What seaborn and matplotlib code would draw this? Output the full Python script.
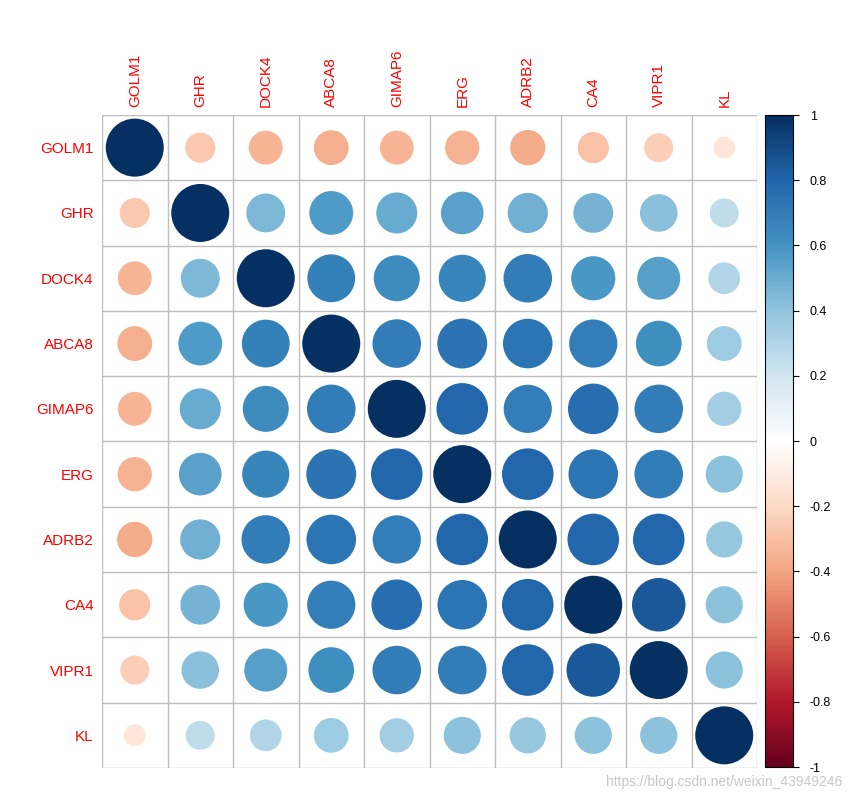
import numpy as np
import pandas as pd
import seaborn as sns
import matplotlib.pyplot as plt
from matplotlib.colors import LinearSegmentedColormap, Normalize
from matplotlib.cm import ScalarMappable

# ==========================================
# DATA: correlation values (upper triangle)
# ==========================================
genes = ['GOLM1', 'GHR', 'DOCK4', 'ABCA8', 'GIMAP6', 'ERG', 'ADRB2', 'CA4', 'VIPR1', 'KL']

row_golm1 = [1.00, -0.27, -0.34, -0.36, -0.34, -0.35, -0.37, -0.29, -0.25, -0.14]
row_ghr = [1.00, 0.45, 0.57, 0.50, 0.54, 0.48, 0.47, 0.42, 0.25]
row_dock4 = [1.00, 0.68, 0.63, 0.66, 0.70, 0.58, 0.55, 0.30]
row_abca8 = [1.00, 0.70, 0.74, 0.73, 0.69, 0.62, 0.36]
row_gimap6 = [1.00, 0.79, 0.69, 0.76, 0.70, 0.35]
row_erg = [1.00, 0.79, 0.73, 0.70, 0.41]
row_adrb2 = [1.00, 0.79, 0.79, 0.39]
row_ca4 = [1.00, 0.85, 0.41]
row_vipr1 = [1.00, 0.41]
row_kl = [1.00]

cbar_ticks = [-1, -0.8, -0.6, -0.4, -0.2, 0, 0.2, 0.4, 0.6, 0.8, 1]

# ==========================================
# BUILD THE FULL SYMMETRIC MATRIX
# ==========================================
upper = [row_golm1, row_ghr, row_dock4, row_abca8, row_gimap6,
         row_erg, row_adrb2, row_ca4, row_vipr1, row_kl]
n = len(genes)
corr = np.zeros((n, n))
for i, row in enumerate(upper):
    corr[i, i:] = row
    corr[i:, i] = row

df = pd.DataFrame([(i, j, corr[i, j]) for i in range(n) for j in range(n)],
                  columns=['row', 'col', 'r'])
df['absr'] = df['r'].abs()

# corrplot-style RdBu palette
cmap = LinearSegmentedColormap.from_list('corrRdBu', [
    '#67001F', '#B2182B', '#D6604D', '#F4A582', '#FDDBC7', '#FFFFFF',
    '#D1E5F0', '#92C5DE', '#4393C3', '#2166AC', '#053061'])
norm = Normalize(-1, 1)

# ==========================================
# PLOT
# ==========================================
fig = plt.figure(figsize=(8.51, 8.0), dpi=100)
ax = fig.add_axes([102 / 851, 1 - 768 / 800, 655 / 851, 653 / 800])

max_d = 58 * 72 / 100  # diameter of a |r|=1 circle in points
sns.scatterplot(data=df, x='col', y='row', hue='r', size='absr',
                palette=cmap, hue_norm=norm, sizes=(0, max_d ** 2), size_norm=(0, 1),
                linewidth=0, legend=False, ax=ax)

# grid
for k in np.arange(-0.5, n, 1):
    ax.axhline(k, color='#BEBEBE', lw=1, zorder=0)
    ax.axvline(k, color='#BEBEBE', lw=1, zorder=0)

ax.set_xlim(-0.5, n - 0.5)
ax.set_ylim(n - 0.5, -0.5)
ax.set_xlabel('')
ax.set_ylabel('')
for s in ax.spines.values():
    s.set_visible(False)

ax.set_xticks(range(n))
ax.set_yticks(range(n))
ax.set_xticklabels(genes, rotation=90, color='red', fontsize=11, family='Liberation Sans')
ax.set_yticklabels(genes, color='red', fontsize=11, family='Liberation Sans')
ax.xaxis.tick_top()
ax.tick_params(length=0, pad=6)

# colorbar
cax = fig.add_axes([765 / 851, 1 - 767 / 800, 28 / 851, 652 / 800])
cb = fig.colorbar(ScalarMappable(norm=norm, cmap=cmap), cax=cax, ticks=cbar_ticks)
cb.ax.set_yticklabels([f'{t:g}' for t in cbar_ticks], fontsize=9, family='Liberation Sans')
cb.ax.tick_params(length=4, width=0.8, pad=8)
cb.outline.set_linewidth(0.8)

# watermark
fig.text(0.99, 0.022, 'https://blog.csdn.net/weixin_43949246', ha='right', va='center',
         color='#C8C8C8', fontsize=10, family='Liberation Sans')

plt.savefig('out.png', dpi=100)
